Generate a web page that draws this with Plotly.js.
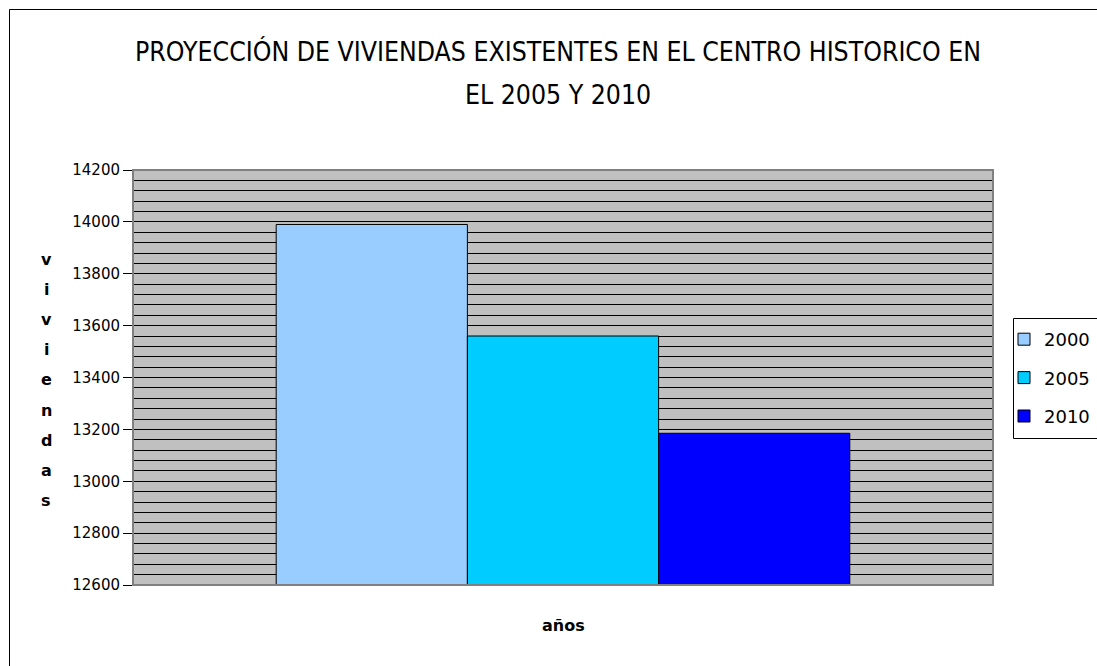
<!DOCTYPE html>
<html>
<head>
<meta charset="utf-8">
<script src="https://cdn.plot.ly/plotly-3.0.1.min.js"></script>
<style>html,body{margin:0;padding:0;background:#fff;}#chart{width:1097px;height:666px;}</style>
</head>
<body>
<div id="chart"></div>
<script>
const categories = [''];
const seriesNames = ['2000', '2005', '2010'];
const seriesValues = [[13990], [13560], [13185]];
const seriesColors = ['#99CCFF', '#00CCFF', '#0000FF'];
const yTickVals = [12600, 12800, 13000, 13200, 13400, 13600, 13800, 14000, 14200];
const titleLine1 = 'PROYECCIÓN DE VIVIENDAS EXISTENTES EN EL CENTRO HISTORICO EN';
const titleLine2 = 'EL 2005 Y 2010';
const yTitle = 'viviendas';
const xTitle = 'años';

const titleFont = {family: 'Liberation Sans Narrow, DejaVu Sans Condensed, Liberation Sans', size: 26.4, color: '#000'};

const traces = seriesNames.map((name, i) => ({
  type: 'bar',
  name: name,
  x: categories,
  y: seriesValues[i],
  base: 0,
  marker: {color: seriesColors[i], line: {color: '#000', width: 1}},
  legendgroup: 'g' + i,
  hoverinfo: 'none'
}));

const annotations = [];
yTitle.split('').forEach((ch, i) => {
  annotations.push({
    text: ch, xref: 'paper', yref: 'paper',
    x: (46 - 133) / 860, y: (585 - (259 + i * 30.2)) / 415,
    xanchor: 'center', yanchor: 'middle', showarrow: false,
    font: {family: 'DejaVu Sans', size: 16, color: '#000', weight: 'bold'}
  });
});
annotations.push({
  text: xTitle, xref: 'paper', yref: 'paper',
  x: (563 - 133) / 860, y: (585 - 625) / 415,
  xanchor: 'center', yanchor: 'middle', showarrow: false,
  font: {family: 'DejaVu Sans', size: 16, color: '#000', weight: 'bold'}
});
annotations.push({
  text: titleLine2, xref: 'paper', yref: 'paper',
  x: (558 - 133) / 860, y: (585 - 95) / 415,
  xanchor: 'center', yanchor: 'middle', showarrow: false,
  font: titleFont
});

const layout = {
  width: 1097, height: 666,
  margin: {l: 133, r: 104, t: 170, b: 81, autoexpand: false},
  paper_bgcolor: '#fff',
  plot_bgcolor: '#C0C0C0',
  barmode: 'group',
  bargap: 0.333,
  bargroupgap: 0,
  showlegend: true,
  title: {
    text: titleLine1,
    font: titleFont,
    x: 558 / 1097, xanchor: 'center',
    y: 1 - 52 / 666, yanchor: 'middle'
  },
  xaxis: {
    type: 'category',
    showticklabels: false, ticks: '',
    showgrid: false, zeroline: false,
    showline: false, fixedrange: true
  },
  yaxis: {
    range: [12600, 14200],
    tickvals: yTickVals,
    ticktext: yTickVals.map(String),
    ticks: 'outside', ticklen: 9, tickcolor: '#000', tickwidth: 1,
    tickfont: {family: 'DejaVu Sans', size: 15, color: '#000'},
    showgrid: true, gridcolor: '#000', gridwidth: 1,
    minor: {dtick: 40, tick0: 12600, showgrid: true, gridcolor: '#000', gridwidth: 1, ticks: ''},
    zeroline: false, showline: false, fixedrange: true
  },
  legend: {
    x: (1004 - 133) / 860, xanchor: 'left',
    y: (585 - 321) / 415, yanchor: 'top',
    bgcolor: 'rgba(0,0,0,0)', borderwidth: 0,
    font: {family: 'DejaVu Sans', size: 18, color: '#000'},
    traceorder: 'grouped', tracegroupgap: 12,
    itemwidth: 30
  },
  annotations: annotations,
  shapes: [
    {type: 'rect', xref: 'paper', yref: 'paper', x0: 0, x1: 1, y0: 0, y1: 1,
     line: {color: '#808080', width: 2}, layer: 'above'},
    {type: 'rect', xref: 'paper', yref: 'paper', x0: (9.5 - 133) / 860, x1: 1.2, y0: -0.3, y1: 1 + (170 - 9.5) / 415,
     line: {color: '#000', width: 1}, layer: 'below'},
    {type: 'rect', xref: 'paper', yref: 'paper', x0: (1013.5 - 133) / 860, x1: 1.2, y0: (585 - 438.5) / 415, y1: (585 - 318.5) / 415,
     line: {color: '#000', width: 1}, fillcolor: '#fff', layer: 'below'}
  ]
};

Plotly.newPlot('chart', traces, layout, {displayModeBar: false, staticPlot: true});
</script>
</body>
</html>
